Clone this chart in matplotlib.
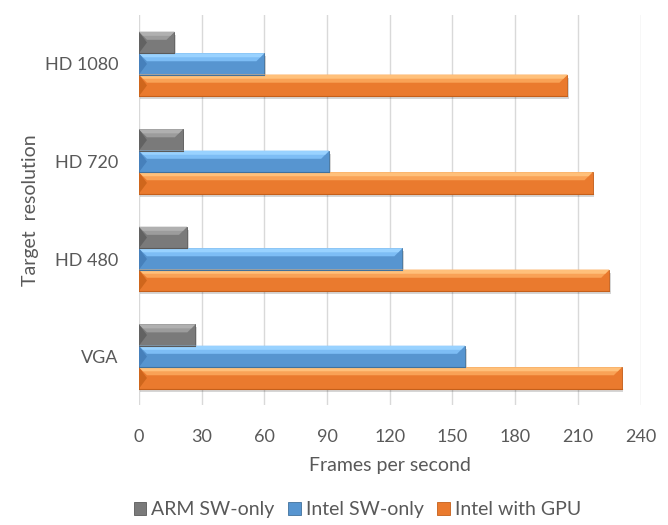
import matplotlib
matplotlib.use('Agg')
import matplotlib.pyplot as plt
from matplotlib.patches import Polygon, Rectangle

plt.rcParams['font.family'] = ['Lato', 'DejaVu Sans']

categories = ['VGA', 'HD 480', 'HD 720', 'HD 1080']
arm_sw = [27, 23, 21, 17]
intel_sw = [156, 126, 91, 60]
intel_gpu = [231, 225, 217, 205]
x_ticks = [0, 30, 60, 90, 120, 150, 180, 210, 240]

# (label, values, offset, main, top facet, top highlight, left facet, edge)
series = [
    ('ARM SW-only', arm_sw, 0.22, '#7a7a7a', '#9c9c9c', '#b0b0b0', '#626262', '#5a5a5a'),
    ('Intel SW-only', intel_sw, 0.0, '#5795d0', '#7dbdf5', '#99d2ff', '#4680bb', '#41719c'),
    ('Intel with GPU', intel_gpu, -0.22, '#ea7a2e', '#f9a256', '#ffc07a', '#cf661c', '#c55f1a'),
]
bar_h = 0.22
text_col = '#595959'

fig = plt.figure(figsize=(6.68, 5.25), dpi=100)
ax = fig.add_axes([0.208, 0.228, 0.751, 0.743])
ax.set_xlim(0, 240)
ax.set_ylim(-0.5, 3.5)

# pixel -> data conversion for the bevel facets
ax_w = 0.751 * 668
ax_h = 0.743 * 525
sx = 240 / ax_w
sy = 4 / ax_h
d = 8.0

handles = []
for label, vals, off, main, top, hi, left, edge in series:
    ys = [i + off for i in range(len(categories))]
    # soft drop shadow
    for y, v in zip(ys, vals):
        ax.add_patch(Rectangle((1.5 * sx, y - bar_h / 2 - 3 * sy), v, bar_h,
                               color='#000000', alpha=0.16, lw=0, zorder=2))
    bars = ax.barh(ys, vals, height=bar_h, color=main, edgecolor=edge,
                   linewidth=0.6, label=label, zorder=3)
    handles.append(bars)
    for y, v in zip(ys, vals):
        y0, y1 = y - bar_h / 2, y + bar_h / 2
        dx, dy = d * sx, d * sy
        # top facet with a lighter strip along the upper edge
        ax.add_patch(Polygon([(0, y1), (v, y1), (v - dx, y1 - dy), (dx, y1 - dy)],
                             closed=True, color=top, lw=0, zorder=4))
        ax.add_patch(Polygon([(0, y1), (v, y1), (v - dx / 2, y1 - dy / 2), (dx / 2, y1 - dy / 2)],
                             closed=True, color=hi, lw=0, zorder=4))
        # left facet, a darker wedge
        ax.add_patch(Polygon([(0, y1), (dx, y), (0, y0)],
                             closed=True, color=left, lw=0, zorder=5))
        ax.plot([0, v], [y0, y0], color=edge, lw=0.8, zorder=5)

ax.set_xticks(x_ticks)
ax.set_yticks(range(len(categories)))
ax.set_yticklabels(categories)
ax.grid(axis='x', color='#d9d9d9', linewidth=1.0, zorder=0)
ax.set_axisbelow(True)
for s in ax.spines.values():
    s.set_visible(False)
ax.tick_params(axis='both', length=0, labelsize=13, colors=text_col)
ax.tick_params(axis='x', pad=17)
ax.tick_params(axis='y', pad=15)

ax.set_xlabel('Frames per second', fontsize=14, color=text_col, labelpad=9)
ax.set_ylabel('Target  resolution', fontsize=14, color=text_col, labelpad=4)

fig.legend(handles=handles, loc='center', bbox_to_anchor=(0.535, 0.029), ncol=3,
           frameon=False, fontsize=14, labelcolor=text_col, handlelength=0.65,
           handleheight=0.65, handletextpad=0.25, columnspacing=0.7)

fig.savefig('out.png', dpi=100)
